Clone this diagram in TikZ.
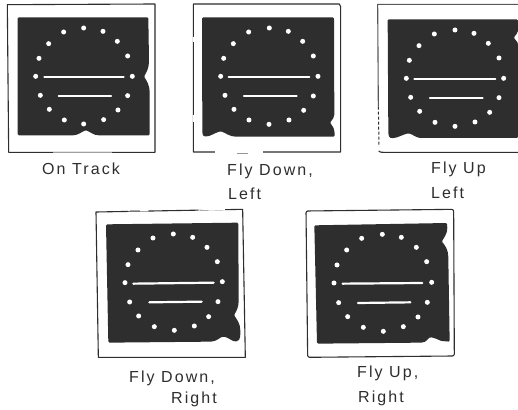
\documentclass[tikz,border=0pt]{standalone}
\usepackage{fontspec}
\setmainfont[LetterSpace=13]{Liberation Sans}
\definecolor{ink}{HTML}{2E2E2E}
\tikzset{
  frameline/.style={draw=ink,line width=1.1pt,line join=round},
  dial/.style={fill=ink,rounded corners=1.2pt},
  slot/.style={draw=white,line width=2.2pt,line cap=round},
  hole/.style={fill=white},
  caption/.style={anchor=base west,inner sep=0pt,text=ink,font=\fontsize{16}{18}\selectfont},
}
\newcommand{\holes}[1]{\foreach \p in {#1} \fill[hole] \p circle (7.5);}
\begin{document}
\begin{tikzpicture}[x=1pt,y=-1pt]
\useasboundingbox (0,0) rectangle (518,409);
\fill[white] (0,0) rectangle (518,409);

% On Track
\begin{scope}[shift={(0,0)},x=0.3333pt,y=-0.3333pt]
\draw[frameline] (22,14) -- (465,12) -- (465,457) -- (26,457) -- cycle;
\draw[white,line width=1.3pt] (160,457) -- (335,457);
\draw[ink!45,line width=.7pt] (160,458) -- (335,458);
\fill[dial] (53,52) -- (445,52) -- (447,180) .. controls (447,205) and (440,215) .. (432,230) .. controls (442,245) and (449,255) .. (449,285) -- (449,406) -- (300,406) .. controls (280,406) and (270,395) .. (258,391) .. controls (245,395) and (235,406) .. (215,406) -- (53,406) -- cycle;
\holes{(251,84),(309,94),(352,124),(383,168),(397,229),(383,287),(354,330),(311,359),(251,372),(193,360),(148,328),(121,286),(107,229),(117,175),(146,131),(191,96)}
\draw[slot] (133,230) -- (371,230);
\draw[slot] (176,288) -- (333,288);
\end{scope}

% Fly Down, Left
\begin{scope}[shift={(180,0)},x=0.3333pt,y=-0.3333pt]
\draw[frameline] (40,12) -- (478,12) -- (482,20) -- (482,456) -- (40,456) -- cycle;
\draw[white,line width=1.4pt] (105,456) -- (250,456);
\draw[ink!50,line width=.8pt] (170,459) -- (205,459);
\draw[white,line width=1.4pt] (40,110) -- (40,125) (40,345) -- (40,365);
\fill[dial] (66,52) -- (462,52) -- (463,340) .. controls (463,352) and (458,358) .. (450,368) .. controls (458,378) and (464,385) .. (464,410) -- (170,410) .. controls (150,410) and (135,398) .. (122,394) .. controls (105,398) and (90,410) .. (75,409) .. controls (68,408) and (67,400) .. (67,390) -- cycle;
\holes{(268,84),(325,94),(368,124),(400,168),(414,229),(400,288),(371,331),(327,360),(267,373),(207,360),(162,328),(135,286),(122,229),(131,175),(160,131),(206,96)}
\draw[slot] (146,231) -- (388,231);
\draw[slot] (192,288) -- (350,288);
\end{scope}

% Fly Up Left
\begin{scope}[shift={(350,0)},x=0.3333pt,y=-0.3333pt]
\draw[frameline,draw=ink!80] (504,13) -- (83,13) -- (85,320);
\draw[ink,line width=1pt,dash pattern=on 3pt off 2pt] (85,320) -- (87,440);
\draw[frameline] (86,453) .. controls (88,457) and (95,457) .. (100,457) -- (504,457);
\fill[dial] (113,58) -- (504,58) -- (504,90) .. controls (503,100) and (497,105) .. (491,113) .. controls (497,120) and (501,125) .. (504,130) -- (504,414) -- (215,414) .. controls (200,414) and (188,403) .. (175,400) .. controls (160,403) and (140,415) .. (125,414) .. controls (117,413) and (115,405) .. (115,395) -- cycle;
\holes{(315,90),(372,100),(415,130),(447,174),(461,235),(447,293),(419,337),(375,366),(315,379),(255,367),(209,334),(182,292),(169,235),(178,181),(207,137),(253,102)}
\draw[slot] (193,237) -- (436,237);
\draw[slot] (240,294) -- (398,294);
\end{scope}

% Fly Down, Right
\begin{scope}[shift={(85,200)},x=0.3333pt,y=-0.3333pt]
\draw[frameline] (33,36) -- (473,28) -- (481,472) -- (40,472) -- cycle;
\draw[white,line width=1.4pt] (130,32) -- (190,32) (340,30) -- (420,29);
\draw[ink!40,line width=1pt] (135,32) -- (165,32) (345,30) -- (368,30);
\fill[dial] (63,73) -- (460,68) -- (461,300) .. controls (461,320) and (455,333) .. (447,345) .. controls (455,358) and (466,370) .. (466,395) .. controls (466,420) and (460,425) .. (450,424) .. controls (440,422) and (428,412) .. (415,410) .. controls (405,412) and (395,424) .. (375,425) -- (70,428) -- cycle;
\holes{(265,102),(323,112),(366,142),(397,185),(412,245),(399,305),(371,350),(328,378),(268,391),(208,380),(161,348),(134,306),(120,248),(129,194),(159,150),(204,114)}
\draw[slot] (145,251) -- (386,248);
\draw[slot] (193,307) -- (350,305);
\end{scope}

% Fly Up, Right
\begin{scope}[shift={(295,200)},x=0.3333pt,y=-0.3333pt]
\draw[frameline,rounded corners=2pt] (33,33) -- (476,28) -- (478,468) -- (38,472) -- cycle;
\fill[dial] (58,76) -- (456,69) -- (457,85) .. controls (456,100) and (448,112) .. (440,125) .. controls (450,135) and (460,150) .. (460,175) -- (464,425) -- (440,423) .. controls (430,420) and (420,413) .. (407,412) .. controls (398,415) and (395,428) .. (375,428) -- (66,431) -- cycle;
\holes{(262,103),(319,112),(364,142),(395,185),(410,247),(397,307),(369,351),(325,380),(265,394),(205,382),(158,350),(131,308),(117,249),(126,195),(155,150),(200,115)}
\draw[slot] (143,251) -- (382,249);
\draw[slot] (189,309) -- (346,307);
\end{scope}

\node[caption] (c1) at (42,174) {On Track};
\node[caption] (c2a) at (227,175) {Fly Down,};
\node[caption] (c2b) at (228,199) {Left};
\node[caption] (c3a) at (431,173) {Fly Up};
\node[caption] (c3b) at (431,198) {Left};
\node[caption] (c4a) at (129,382) {Fly Down,};
\node[caption] (c4b) at (171,403) {Right};
\node[caption] (c5a) at (357,377) {Fly Up,};
\node[caption] (c5b) at (358,402) {Right};
\end{tikzpicture}
\end{document}
